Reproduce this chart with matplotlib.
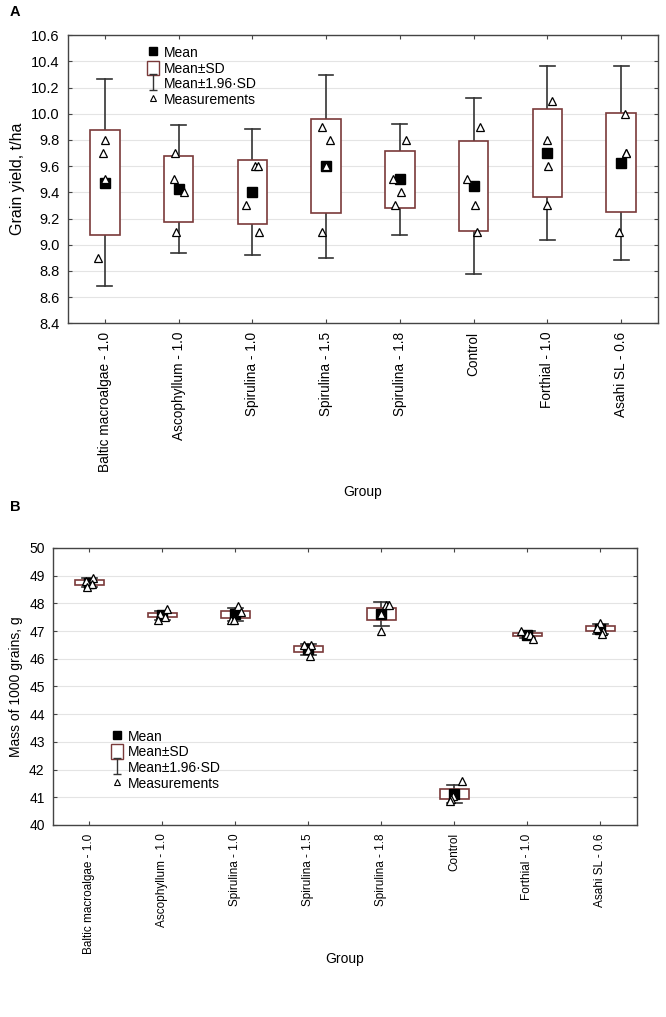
import numpy as np
import matplotlib.pyplot as plt
from matplotlib.path import Path
from matplotlib.lines import Line2D
from matplotlib.patches import Rectangle

plt.rcParams['font.family'] = ['Liberation Sans', 'DejaVu Sans']

# Data
groups = ['Baltic macroalgae - 1.0', 'Ascophyllum - 1.0', 'Spirulina - 1.0',
          'Spirulina - 1.5', 'Spirulina - 1.8', 'Control', 'Forthial - 1.0',
          'Asahi SL - 0.6']

# panel A: grain yield, t/ha
yield_mean = [9.475, 9.425, 9.40, 9.60, 9.50, 9.45, 9.70, 9.625]
yield_sd = [0.403, 0.250, 0.245, 0.356, 0.216, 0.342, 0.337, 0.378]
yield_meas = [[9.8, 9.7, 9.5, 8.9], [9.7, 9.5, 9.4, 9.1], [9.6, 9.6, 9.3, 9.1],
              [9.9, 9.8, 9.6, 9.1], [9.8, 9.5, 9.4, 9.3], [9.9, 9.5, 9.3, 9.1],
              [10.1, 9.8, 9.6, 9.3], [10.0, 9.7, 9.7, 9.1]]

# panel B: mass of 1000 grains, g
mass_mean = [48.75, 47.57, 47.60, 46.35, 47.62, 41.12, 46.87, 47.08]
mass_sd = [0.085, 0.08, 0.12, 0.10, 0.22, 0.17, 0.06, 0.09]
mass_meas = [[48.9, 48.8, 48.7, 48.6], [47.8, 47.6, 47.5, 47.4], [47.9, 47.7, 47.4, 47.4],
             [46.5, 46.5, 46.3, 46.1], [47.95, 47.95, 47.6, 47.0], [41.6, 41.05, 40.95, 40.85],
             [47.0, 46.9, 46.85, 46.7], [47.3, 47.1, 47.0, 46.9]]

# small horizontal jitter of the measurement triangles (style only)
jit_a = [[0.0, -0.03, 0.0, -0.09], [-0.05, -0.06, 0.07, -0.03], [0.04, 0.08, -0.08, 0.09],
         [-0.05, 0.05, 0.0, -0.05], [0.08, -0.09, 0.01, -0.06], [0.09, -0.09, 0.02, 0.04],
         [0.06, 0.0, 0.01, 0.0], [0.05, 0.07, 0.07, -0.03]]
jit_b = [[0.05, -0.05, 0.03, -0.03], [0.06, -0.04, 0.03, -0.06], [0.04, 0.07, -0.06, -0.02],
         [-0.06, 0.04, 0.0, 0.02], [0.06, 0.1, 0.0, 0.0], [0.1, -0.02, -0.04, -0.06],
         [-0.08, 0.0, 0.04, 0.08], [0.0, -0.04, 0.04, 0.03]]

box_col = '#7a3a3a'
wh_col = '#333333'

# I-beam marker for the legend
ibeam = Path([(-0.5, 1), (0.5, 1), (0, 1), (0, -1), (-0.5, -1), (0.5, -1)],
             [Path.MOVETO, Path.LINETO, Path.MOVETO, Path.LINETO, Path.MOVETO, Path.LINETO])


def panel(ax, mean, sd, meas, jit, yticks, fmt, ylabel, leg_loc, xlab_y,
          ytick_fs, xtick_fs, lab_fs):
    x = np.arange(len(groups))
    mean = np.array(mean)
    sd = np.array(sd)
    for i in x:
        lo, hi = mean[i] - 1.96 * sd[i], mean[i] + 1.96 * sd[i]
        ax.plot([i, i], [lo, hi], color=wh_col, lw=1.2, zorder=2)
        ax.plot([i - 0.1, i + 0.1], [lo, lo], color=wh_col, lw=1.2, zorder=2)
        ax.plot([i - 0.1, i + 0.1], [hi, hi], color=wh_col, lw=1.2, zorder=2)
        ax.add_patch(Rectangle((i - 0.2, mean[i] - sd[i]), 0.4, 2 * sd[i],
                               facecolor='white', edgecolor=box_col, lw=1.2, zorder=3))
        ax.plot(i + np.array(jit[i]), meas[i], ls='none', marker='^', ms=5.5,
                mfc='white', mec='black', mew=0.9, zorder=5)
    ax.plot(x, mean, ls='none', marker='s', ms=6.5, color='black', zorder=4)

    ax.set_xlim(-0.5, len(groups) - 0.5)
    ax.set_ylim(yticks[0], yticks[-1])
    ax.set_yticks(yticks)
    ax.set_yticklabels([fmt.format(v) for v in yticks])
    ax.set_xticks(x)
    ax.set_xticklabels(groups, rotation=90)
    ax.tick_params(direction='in', top=True, right=True, length=3,
                   color='#444444', pad=6)
    ax.tick_params(axis='y', labelsize=ytick_fs)
    ax.tick_params(axis='x', labelsize=xtick_fs)
    ax.grid(axis='y', color='#e4e4e4', lw=0.8)
    ax.set_axisbelow(True)
    for s in ax.spines.values():
        s.set_color('#444444')
        s.set_linewidth(1.0)
    ax.set_ylabel(ylabel, fontsize=lab_fs)
    ax.set_xlabel('Group', fontsize=10)
    ax.xaxis.set_label_coords(0.5, xlab_y)

    handles = [Line2D([], [], ls='none', marker='s', ms=6, color='black'),
               Rectangle((0, 0), 1, 1, facecolor='white', edgecolor=box_col, lw=1.0),
               Line2D([], [], ls='none', marker=ibeam, ms=12, mec=wh_col, mew=1.0),
               Line2D([], [], ls='none', marker='^', ms=5, mfc='white', mec='black', mew=0.8)]
    ax.legend(handles, ['Mean', 'Mean±SD', 'Mean±1.96·SD', 'Measurements'],
              loc='upper left', bbox_to_anchor=leg_loc, frameon=False, fontsize=10,
              handlelength=0.9, handleheight=1.25, handletextpad=0.3,
              labelspacing=0.05, borderpad=0)


fig = plt.figure(figsize=(6.66, 10.17), dpi=100)
axA = fig.add_axes([0.102, 0.682, 0.886, 0.2835])
axB = fig.add_axes([0.0796, 0.1888, 0.8764, 0.2724])

panel(axA, yield_mean, yield_sd, yield_meas, jit_a, np.round(np.arange(8.4, 10.61, 0.2), 1),
      '{:.1f}', 'Grain yield, t/ha', (0.122, 0.99), -0.56, 10.5, 9.8, 11.5)
panel(axB, mass_mean, mass_sd, mass_meas, jit_b, np.arange(40, 51, 1),
      '{:d}', 'Mass of 1000 grains, g', (0.087, 0.373), -0.46, 10, 8.5, 10)

fig.text(0.015, 0.995, 'A', fontsize=10.5, fontweight='bold', va='top')
fig.text(0.015, 0.508, 'B', fontsize=10.5, fontweight='bold', va='top')

fig.savefig('out.png', dpi=100)
